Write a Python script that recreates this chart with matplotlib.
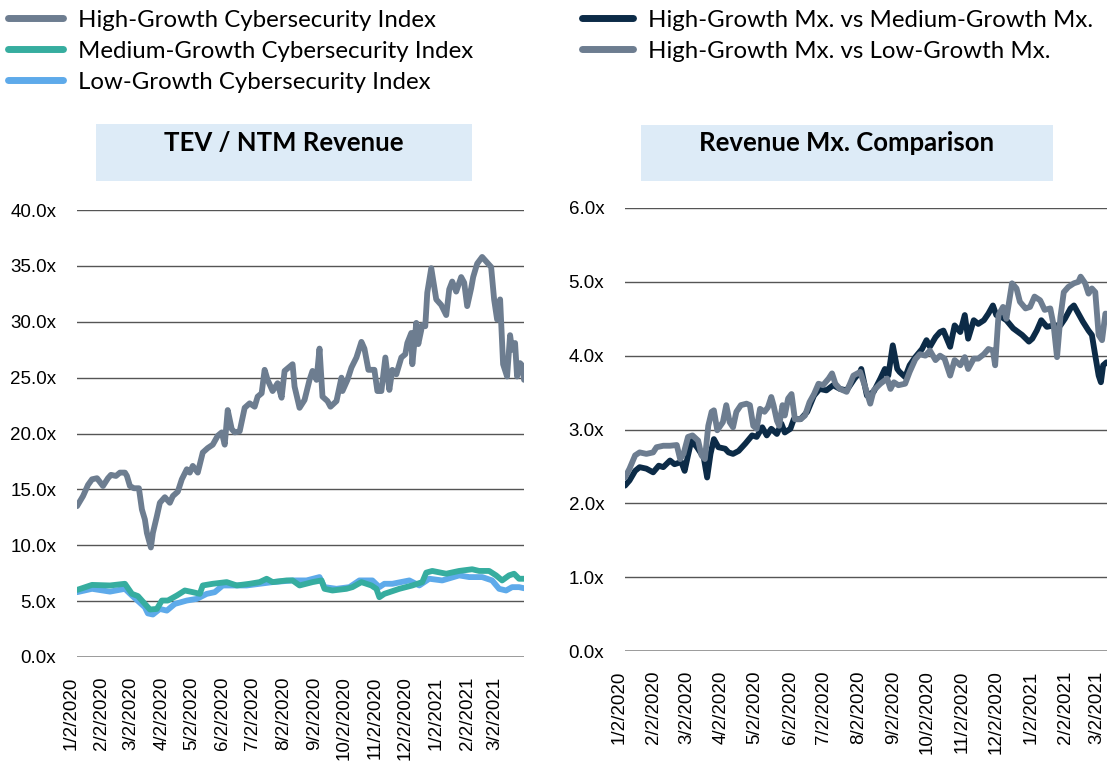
import matplotlib
matplotlib.use("Agg")
import matplotlib.pyplot as plt
import matplotlib.transforms as mtransforms
from matplotlib.patches import Rectangle
import pandas as pd

# days are counted from 1/2/2020
START = pd.Timestamp("2020-01-02")

# TEV / NTM Revenue
hg_day = [0, 6, 11, 15, 20, 26, 31, 34, 39, 43, 48, 50, 53, 57, 62, 65, 68, 70, 74, 76,
          80, 83, 88, 93, 96, 101, 105, 110, 113, 116, 121, 126, 131, 136, 141, 145, 148,
          151, 155, 158, 163, 168, 173, 178, 181, 185, 188, 191, 196, 201, 205, 208, 216,
          218, 223, 228, 233, 236, 240, 243, 246, 251, 254, 260, 265, 266, 271, 275, 280,
          285, 288, 292, 298, 301, 305, 309, 313, 316, 320, 325, 329, 331, 335, 336, 340,
          342, 346, 349, 351, 355, 360, 365, 370, 373, 376, 380, 385, 388, 391, 395, 397,
          401, 406, 410, 415, 418, 421, 424, 427, 431, 434, 436, 439, 441, 444, 446, 448]
hg_val = [13.5, 14.4, 15.4, 15.9, 16.0, 15.3, 16.0, 16.3, 16.2, 16.5, 16.5, 16.2, 15.3,
          15.1, 15.1, 13.2, 12.3, 11.1, 9.8, 11.1, 12.6, 13.8, 14.3, 13.8, 14.4, 14.8,
          15.9, 16.8, 16.5, 17.1, 16.5, 18.3, 18.7, 19.0, 19.8, 20.1, 19.0, 22.1, 20.4,
          20.1, 20.2, 22.3, 22.7, 22.4, 23.3, 23.6, 25.7, 24.8, 23.8, 24.5, 23.2, 25.6,
          26.2, 24.2, 22.3, 23.0, 24.8, 25.6, 24.8, 27.6, 23.3, 22.9, 22.4, 22.9, 25.0,
          23.8, 24.8, 25.9, 26.8, 28.2, 27.6, 25.7, 25.7, 23.8, 23.8, 26.8, 23.9, 25.7,
          25.3, 26.8, 27.1, 28.1, 29.0, 26.2, 29.9, 28.0, 29.7, 29.6, 32.6, 34.8, 32.0,
          31.5, 30.6, 32.9, 33.6, 32.7, 34.0, 33.5, 31.4, 33.0, 34.0, 35.2, 35.8, 35.4,
          34.9, 32.0, 30.2, 32.0, 26.2, 25.1, 28.8, 27.5, 28.1, 25.1, 26.3, 26.1, 24.8]

mg_day = [0, 15, 33, 48, 55, 61, 68, 73, 80, 85, 91, 100, 108, 116, 123, 126, 136, 150,
          160, 173, 183, 190, 196, 210, 216, 223, 236, 245, 248, 256, 270, 276, 285, 295,
          300, 303, 308, 313, 323, 336, 346, 350, 356, 370, 383, 396, 403, 413, 420, 426,
          433, 438, 443, 448]
mg_val = [6.0, 6.45, 6.4, 6.55, 5.65, 5.45, 4.75, 4.25, 4.3, 5.05, 5.05, 5.5, 5.95, 5.8,
          5.65, 6.4, 6.55, 6.7, 6.4, 6.55, 6.7, 7.0, 6.7, 6.85, 6.85, 6.4, 6.7, 6.85, 6.1,
          5.95, 6.1, 6.25, 6.7, 6.4, 6.1, 5.35, 5.65, 5.8, 6.1, 6.4, 6.7, 7.55, 7.7, 7.45,
          7.7, 7.85, 7.7, 7.7, 7.3, 6.85, 7.3, 7.45, 7.0, 7.0]

lg_day = [0, 15, 33, 48, 55, 68, 71, 76, 83, 90, 98, 110, 120, 130, 138, 146, 156, 170,
          183, 196, 216, 230, 243, 248, 260, 273, 283, 296, 303, 308, 316, 333, 343, 353,
          366, 383, 393, 406, 416, 423, 430, 436, 443, 448]
lg_val = [5.8, 6.1, 5.85, 6.1, 5.5, 4.45, 3.9, 3.8, 4.3, 4.15, 4.75, 5.05, 5.2, 5.65,
          5.8, 6.4, 6.4, 6.4, 6.55, 6.7, 6.85, 6.85, 7.15, 6.25, 6.1, 6.25, 6.85, 6.85,
          6.25, 6.55, 6.55, 6.85, 6.4, 7.0, 6.85, 7.3, 7.15, 7.15, 6.85, 6.1, 5.95, 6.25,
          6.25, 6.15]

# Revenue Mx. Comparison
hm_day = [0, 4, 9, 13, 19, 25, 30, 34, 40, 44, 50, 53, 56, 59, 64, 67, 70, 73, 76, 79,
          83, 89, 92, 96, 101, 107, 113, 117, 122, 126, 130, 135, 139, 142, 147, 150, 156,
          162, 168, 173, 179, 185, 191, 197, 204, 209, 210, 215, 221, 227, 231, 234, 238,
          242, 244, 249, 253, 258, 264, 268, 271, 276, 280, 283, 289, 293, 298, 302, 305,
          310, 314, 319, 323, 327, 330, 335, 339, 345, 353, 359, 362, 366, 370, 375, 381,
          387, 391, 396, 399, 403, 407, 412, 415, 418, 421, 423, 425, 428, 448]
hm_val = [2.24, 2.31, 2.44, 2.49, 2.47, 2.42, 2.51, 2.49, 2.58, 2.53, 2.56, 2.44, 2.65,
          2.85, 2.76, 2.69, 2.62, 2.35, 2.67, 2.87, 2.76, 2.74, 2.69, 2.67, 2.71, 2.81,
          2.92, 2.90, 3.03, 2.92, 3.01, 2.94, 3.08, 2.96, 3.01, 3.14, 3.14, 3.24, 3.46,
          3.55, 3.53, 3.60, 3.55, 3.53, 3.69, 3.78, 3.82, 3.46, 3.51, 3.69, 3.82, 3.73,
          4.14, 3.82, 3.78, 3.71, 3.87, 3.98, 4.09, 4.21, 4.12, 4.25, 4.32, 4.34, 4.12,
          4.41, 4.32, 4.55, 4.23, 4.48, 4.43, 4.48, 4.57, 4.68, 4.55, 4.52, 4.48, 4.37,
          4.28, 4.19, 4.23, 4.34, 4.48, 4.39, 4.41, 4.41, 4.50, 4.64, 4.68, 4.57, 4.46,
          4.34, 4.28, 4.00, 3.73, 3.64, 3.87, 3.91, 3.85]

hl_day = [0, 4, 9, 13, 19, 25, 28, 34, 40, 46, 49, 52, 56, 60, 65, 68, 71, 74, 77, 79,
          82, 87, 90, 93, 96, 99, 103, 108, 111, 114, 117, 120, 124, 127, 130, 132, 135,
          137, 140, 142, 145, 148, 151, 156, 160, 164, 168, 172, 176, 181, 184, 187, 191,
          197, 203, 209, 213, 218, 221, 227, 233, 236, 239, 243, 249, 253, 258, 262, 267,
          271, 276, 280, 284, 289, 293, 298, 302, 305, 310, 314, 319, 323, 327, 329, 332,
          336, 339, 344, 348, 351, 356, 360, 364, 369, 373, 378, 381, 384, 387, 390, 394,
          399, 403, 405, 409, 412, 415, 418, 421, 424, 427, 448]
hl_val = [2.35, 2.47, 2.65, 2.69, 2.67, 2.69, 2.76, 2.78, 2.78, 2.79, 2.60, 2.67, 2.90,
          2.92, 2.85, 2.65, 2.60, 3.05, 3.24, 3.26, 2.99, 3.10, 3.33, 3.10, 3.03, 3.24,
          3.33, 3.35, 3.33, 3.05, 3.01, 3.28, 3.24, 3.30, 3.44, 3.33, 3.12, 3.05, 3.33,
          3.19, 3.42, 3.48, 3.14, 3.14, 3.19, 3.37, 3.48, 3.62, 3.60, 3.69, 3.76, 3.62,
          3.55, 3.51, 3.73, 3.78, 3.60, 3.35, 3.53, 3.62, 3.69, 3.55, 3.64, 3.60, 3.62,
          3.78, 3.95, 4.02, 4.00, 4.07, 3.94, 4.00, 3.96, 3.73, 3.94, 3.87, 3.98, 3.82,
          3.96, 3.96, 4.02, 4.09, 4.07, 3.87, 4.55, 4.66, 4.50, 4.98, 4.91, 4.73, 4.64,
          4.66, 4.80, 4.75, 4.62, 4.64, 4.41, 3.98, 4.52, 4.86, 4.93, 4.98, 5.00, 5.07,
          4.98, 4.84, 4.91, 4.86, 4.28, 4.21, 4.57, 4.50]

tick_dates = pd.date_range("2020-01-01", "2021-03-01", freq="MS") + pd.Timedelta(days=1)
tick_labels = [f"{d.month}/{d.day}/{d.year}" for d in tick_dates]

SLATE = "#6d7d90"
TEAL = "#36ad9f"
SKY = "#5eaaea"
NAVY = "#0c2b47"
GRID = "#555555"
TXT = "#000000"
LW = 4.2


def to_dates(days):
    return START + pd.to_timedelta(days, unit="D")


plt.rcParams["font.family"] = ["Liberation Sans", "DejaVu Sans"]
fig = plt.figure(figsize=(11.07, 7.61), dpi=100)

ax1 = fig.add_axes([0.0696, 0.1367, 0.4038, 0.5873])
ax2 = fig.add_axes([0.5646, 0.1445, 0.4553, 0.5822])

line_kw = dict(lw=LW, solid_capstyle="round", solid_joinstyle="round")
l_hg, = ax1.plot(to_dates(hg_day), hg_val, color=SLATE, label="High-Growth Cybersecurity Index",
                 zorder=3, **line_kw)
l_mg, = ax1.plot(to_dates(mg_day), mg_val, color=TEAL, label="Medium-Growth Cybersecurity Index",
                 zorder=3, **line_kw)
l_lg, = ax1.plot(to_dates(lg_day), lg_val, color=SKY, label="Low-Growth Cybersecurity Index",
                 zorder=2, **line_kw)

l_hm, = ax2.plot(to_dates(hm_day), hm_val, color=NAVY, label="High-Growth Mx. vs Medium-Growth Mx.",
                 zorder=2, **line_kw)
l_hl, = ax2.plot(to_dates(hl_day), hl_val, color=SLATE, label="High-Growth Mx. vs Low-Growth Mx.",
                 zorder=3, **line_kw)

shift = mtransforms.ScaledTranslation(-6 / 100, 0, fig.dpi_scale_trans)

for ax, top, step in [(ax1, 40, 5), (ax2, 6, 1)]:
    ax.set_xlim(START, START + pd.Timedelta(days=448))
    ax.set_ylim(0, top)
    yt = [i * step for i in range(int(top / step) + 1)]
    ax.set_yticks(yt)
    ax.set_yticklabels([f"{v:.1f}x" for v in yt])
    for v in yt[1:]:
        ax.axhline(v, color=GRID, lw=1.0, zorder=1)
    ax.axhline(0, color="#8a8a8a", lw=1.2, zorder=1)
    for s in ax.spines.values():
        s.set_visible(False)
    ax.set_xticks(tick_dates)
    ax.set_xticklabels(tick_labels, rotation=90, va="top", ha="center")
    ax.tick_params(axis="both", length=0, labelsize=13.5, colors=TXT)
    ax.tick_params(axis="y", pad=15)
    ax.tick_params(axis="x", pad=14)
    for lab in ax.get_xticklabels():
        lab.set_transform(lab.get_transform() + shift)

# title boxes
fig.patches.append(Rectangle((0.0867, 0.7622), 0.3397, 0.0749, transform=fig.transFigure,
                             facecolor="#ddebf7", edgecolor="none"))
fig.patches.append(Rectangle((0.5790, 0.7622), 0.3722, 0.0736, transform=fig.transFigure,
                             facecolor="#ddebf7", edgecolor="none"))
fig.text(0.2566, 0.8127, "TEV / NTM Revenue", ha="center", va="center", fontsize=18.5,
         fontweight="bold", family=["Lato", "DejaVu Sans"])
fig.text(0.7651, 0.8121, "Revenue Mx. Comparison", ha="center", va="center", fontsize=18.5,
         fontweight="bold", family=["Lato", "DejaVu Sans"])

leg_kw = dict(loc="upper left", frameon=False, borderpad=0, borderaxespad=0,
              handletextpad=0.62, labelspacing=0.41, prop={"family": "Lato", "size": 17.3})
leg1 = fig.legend(handles=[l_hg, l_mg, l_lg], bbox_to_anchor=(0.007, 0.987),
                  handlelength=2.3, **leg_kw)
leg2 = fig.legend(handles=[l_hm, l_hl], bbox_to_anchor=(0.526, 0.987),
                  handlelength=2.1, **leg_kw)
for leg in (leg1, leg2):
    for h in leg.get_lines():
        h.set_linewidth(5)

fig.savefig("out.png", dpi=100)
